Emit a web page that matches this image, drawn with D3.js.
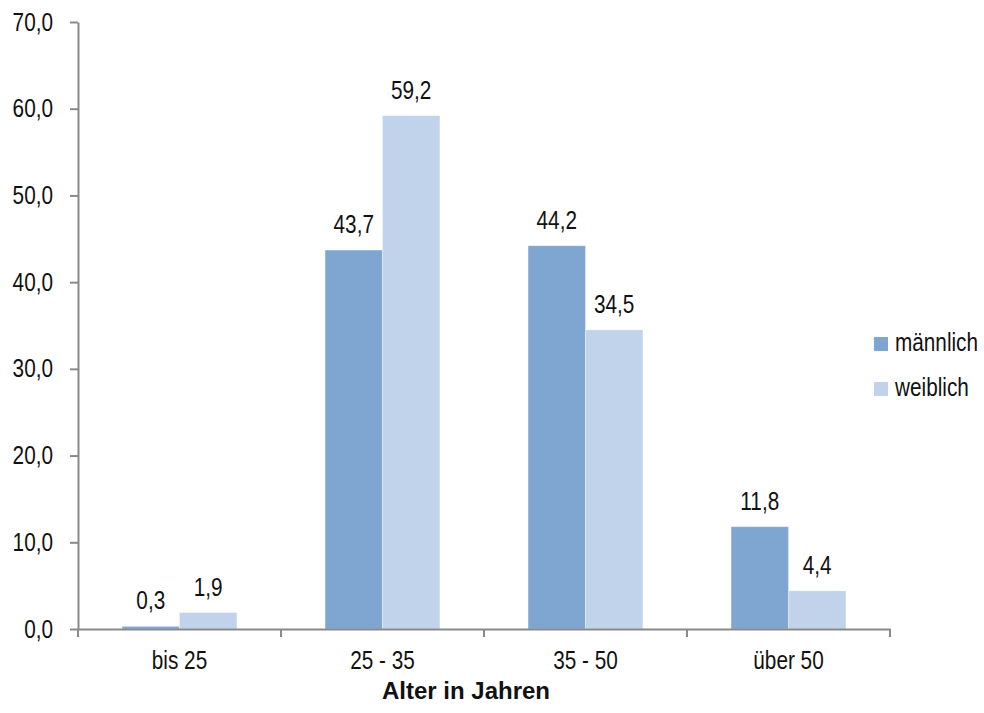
<!DOCTYPE html>
<html lang="de">
<head>
<meta charset="utf-8">
<script src="https://cdn.jsdelivr.net/npm/d3@7"></script>
<style>
  html, body { margin: 0; padding: 0; background: #fff; }
  svg { display: block; font-family: "Liberation Sans", Arial, sans-serif; }
</style>
</head>
<body>
<svg id="chart" width="984" height="713"></svg>
<script>
// Altersgruppen und Anteile (in %) nach Geschlecht
const categories = ["bis 25", "25 - 35", "35 - 50", "über 50"];
const seriesNames = ["männlich", "weiblich"];
const maleValues = [0.3, 43.7, 44.2, 11.8];
const femaleValues = [1.9, 59.2, 34.5, 4.4];
const yTicks = [0, 10, 20, 30, 40, 50, 60, 70];
const xTitle = "Alter in Jahren";
const colors = ["#7fa5d1", "#c0d3ea"];

const seriesValues = [maleValues, femaleValues];
const rows = categories.map((c, i) => ({
  category: c,
  values: seriesNames.map((s, j) => ({ series: s, value: seriesValues[j][i] }))
}));

const de = d3.formatLocale({ decimal: ",", thousands: ".", grouping: [3], currency: ["", " €"] });
const fmt = de.format(".1f");

const labelFont = "Liberation Sans, Arial, sans-serif";
const labelSize = 25;
const narrow = 0.83; // schmale Schrift durch horizontale Stauchung

// Text horizontal stauchen, Ankerpunkt bleibt an seiner Stelle
function condense(sel) {
  sel.each(function () {
    const t = d3.select(this);
    const x0 = +t.attr("x") || 0;
    t.attr("x", x0 / narrow).attr("transform", `scale(${narrow},1)`);
  });
}

const svg = d3.select("#chart");
const plot = { left: 78, right: 890, top: 22, bottom: 629 };

const x = d3.scaleBand().domain(categories).range([plot.left, plot.right]).paddingInner(0).paddingOuter(0);
const x1 = d3.scaleBand().domain(seriesNames).range([x.bandwidth() * 0.217, x.bandwidth() * 0.783]).padding(0);
const y = d3.scaleLinear().domain([0, 70]).range([plot.bottom, plot.top]);
const color = d3.scaleOrdinal().domain(seriesNames).range(colors);

const axisColor = "#898989";

// Balken
const groups = svg.append("g").selectAll("g")
  .data(rows).join("g")
  .attr("transform", d => `translate(${x(d.category)},0)`);

groups.selectAll("rect")
  .data(d => d.values).join("rect")
  .attr("x", d => x1(d.series))
  .attr("y", d => y(d.value))
  .attr("width", x1.bandwidth())
  .attr("height", d => y(0) - y(d.value))
  .attr("fill", d => color(d.series))
  .attr("stroke", "#ffffff")
  .attr("stroke-opacity", 0.35)
  .attr("stroke-width", 1);

// Wertbeschriftungen
groups.selectAll("text.value")
  .data(d => d.values).join("text")
  .attr("class", "value")
  .attr("x", d => x1(d.series) + x1.bandwidth() / 2)
  .attr("y", d => y(d.value) - 17)
  .attr("text-anchor", "middle")
  .attr("font-family", labelFont)
  .attr("font-size", labelSize)
  .attr("fill", "#111")
  .text(d => fmt(d.value))
  .call(condense);

// y-Achse
const yAxis = svg.append("g")
  .attr("transform", `translate(${plot.left},0)`)
  .call(d3.axisLeft(y).tickValues(yTicks).tickFormat(fmt).tickSize(8).tickSizeOuter(0).tickPadding(17));
yAxis.select(".domain").attr("stroke", axisColor).attr("stroke-width", 2);
yAxis.selectAll(".tick line").attr("stroke", axisColor).attr("stroke-width", 2);
yAxis.selectAll(".tick text").attr("font-size", labelSize).attr("fill", "#111")
  .attr("font-family", labelFont).call(condense);

// x-Achse
const xAxis = svg.append("g")
  .attr("transform", `translate(0,${plot.bottom})`)
  .call(d3.axisBottom(x).tickSize(0).tickSizeOuter(0).tickPadding(22));
xAxis.select(".domain").attr("stroke", axisColor).attr("stroke-width", 2);
xAxis.selectAll(".tick text").attr("font-size", labelSize).attr("fill", "#111")
  .attr("font-family", labelFont);

// Trennstriche zwischen den Kategorien
const edges = categories.map(c => x(c)).concat([x(categories[categories.length - 1]) + x.step()]);
xAxis.selectAll("line.sep")
  .data(edges).join("line")
  .attr("class", "sep")
  .attr("x1", d => d).attr("x2", d => d)
  .attr("y1", 0).attr("y2", 8)
  .attr("stroke", axisColor).attr("stroke-width", 2);

// Achsentitel
svg.append("text")
  .attr("x", (plot.left + plot.right) / 2 - 18)
  .attr("y", 699)
  .attr("text-anchor", "middle")
  .attr("font-family", "Liberation Sans, Arial, sans-serif")
  .attr("font-size", 24)
  .attr("font-weight", "bold")
  .attr("fill", "#111")
  .text(xTitle);

// Legende
const legend = svg.append("g").selectAll("g")
  .data(seriesNames).join("g")
  .attr("transform", (d, i) => `translate(874,${337 + i * 45})`);
legend.append("rect")
  .attr("width", 14).attr("height", 14)
  .attr("fill", d => color(d));
legend.append("text")
  .attr("x", 21).attr("y", 14)
  .attr("font-family", labelFont)
  .attr("font-size", labelSize)
  .attr("fill", "#111")
  .text(d => d)
  .call(condense);

// Kategorienbeschriftungen ebenfalls stauchen (Tick-Gruppe trägt die Position)
xAxis.selectAll(".tick text").call(condense);
</script>
</body>
</html>
